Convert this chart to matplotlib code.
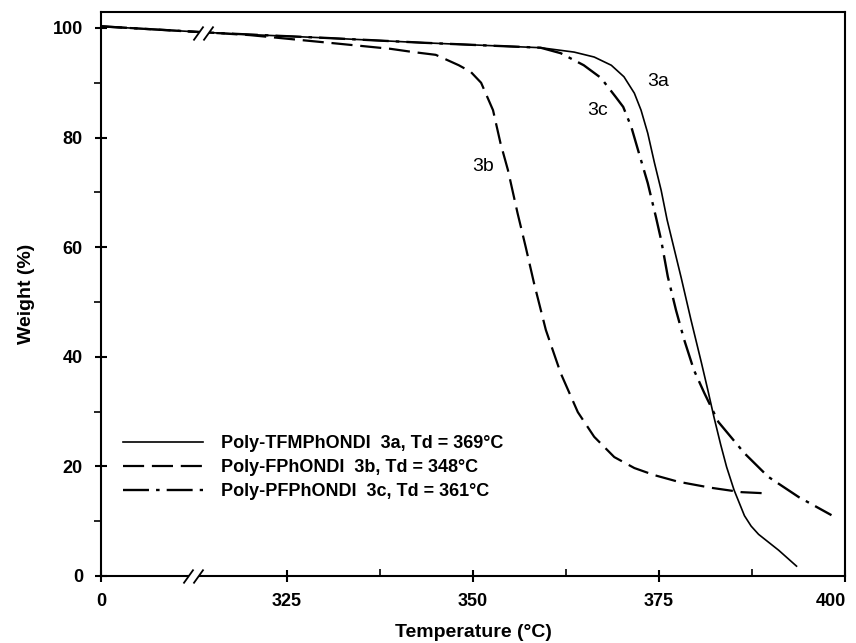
"""TGA curves of the three poly-ONDI samples, with a broken temperature axis."""

import matplotlib

matplotlib.use("Agg")
import matplotlib.pyplot as plt
from matplotlib.path import Path
from matplotlib.ticker import FixedLocator
from matplotlib.transforms import ScaledTranslation

# values (temperature in C, weight in %)
t_3a = [300, 314, 320, 330, 343.4, 352, 359.1, 363.6, 366.3, 368.6, 370.3,
        371.7, 372.6, 373.5, 374.4, 375.3, 376.1, 378.0, 379.3, 380.7,
        381.6, 382.4, 383.3, 384.1, 385.1, 386.5, 387.4, 388.4, 391.1, 393.5]
w_3a = [100.3, 99.2, 98.8, 98.2, 97.3, 96.8, 96.4, 95.6, 94.7, 93.2, 91.1,
        88.1, 85.0, 80.8, 75.4, 70.4, 65.0, 54.4, 46.8, 39.0,
        33.8, 29.0, 24.0, 19.9, 15.7, 11.0, 9.1, 7.6, 4.7, 1.8]

t_3b = [300, 314, 320, 329.9, 338.9, 342.0, 345.0, 348.1, 349.7, 351.1, 352.7,
        353.7, 354.7, 356.0, 357.1, 358.2, 359.8, 361.8, 364.1, 366.3, 369.0,
        371.7, 374.4, 377.6, 382.0, 386.1, 389.2]
w_3b = [100.3, 99.2, 98.7, 97.4, 96.2, 95.6, 95.1, 93.2, 92.0, 90.0, 85.0,
        79.0, 74.1, 66.2, 60.0, 53.5, 44.9, 37.0, 29.9, 25.4, 21.7,
        19.7, 18.4, 17.2, 16.1, 15.3, 15.1]

t_3c = [300, 314, 320, 330, 343.4, 352, 359.1, 361.8, 364.9, 367.2, 369.2,
        370.2, 371.3, 372.2, 373.5, 374.6, 375.3, 376.2, 377.3, 378.4, 379.7,
        381.1, 383.0, 386.5, 389.7, 393.8, 398.2]
w_3c = [100.3, 99.2, 98.8, 98.2, 97.3, 96.8, 96.4, 95.4, 93.2, 90.9, 87.4,
        85.6, 81.9, 77.7, 71.7, 65.5, 61.3, 54.6, 48.5, 43.1, 37.6,
        33.4, 28.1, 22.4, 18.1, 14.4, 11.1]

labels = [
    "Poly-TFMPhONDI  3a, Td = 369°C",
    "Poly-FPhONDI  3b, Td = 348°C",
    "Poly-PFPhONDI  3c, Td = 361°C",
]
curve_tags = ["3a", "3b", "3c"]
tag_pos = [(374.9, 90.3), (351.4, 74.8), (366.8, 85.0)]

x_ticks = [300, 325, 350, 375, 400]
x_ticklabels = ["0", "325", "350", "375", "400"]
x_minor = [337.5, 362.5, 387.5]
y_ticks = [0, 20, 40, 60, 80, 100]
y_minor = [10, 30, 50, 70, 90]

AXIS_BREAK_T = 312.3
CURVE_BREAK = (313.7, 99.1)

SANS = ["Liberation Sans", "DejaVu Sans"]
plt.rcParams["font.family"] = SANS

fig = plt.figure(figsize=(8.56, 6.43), dpi=100)
ax = fig.add_axes([0.118, 0.1042, 0.869, 0.877])

ax.plot(t_3a, w_3a, color="black", lw=1.2, label=labels[0])
ax.plot(t_3b, w_3b, color="black", lw=1.6, dashes=(9.5, 3.5), label=labels[1])
ax.plot(t_3c, w_3c, color="black", lw=1.7, dashes=(11, 3, 1.5, 3), label=labels[2])

for tag, (tx, ty) in zip(curve_tags, tag_pos):
    ax.text(tx, ty, tag, fontsize=14, ha="center", va="center")

ax.set_xlim(300, 400)
ax.set_ylim(0, 102.9)

ax.xaxis.set_major_locator(FixedLocator(x_ticks))
ax.set_xticklabels(x_ticklabels)
ax.xaxis.set_minor_locator(FixedLocator(x_minor))
ax.yaxis.set_major_locator(FixedLocator(y_ticks))
ax.yaxis.set_minor_locator(FixedLocator(y_minor))

ax.tick_params(which="major", direction="inout", length=8, width=1.5,
               labelsize=13)
ax.tick_params(axis="y", which="major", pad=9)
ax.tick_params(axis="x", which="major", pad=8)
ax.tick_params(axis="x", which="minor", direction="in", length=5, width=1.2)
ax.tick_params(axis="y", which="minor", direction="out", length=5, width=1.2)
for lab in ax.get_xticklabels() + ax.get_yticklabels():
    lab.set_fontweight("bold")
# the last x label sits a little to the left of its tick, as in the original
last = ax.get_xticklabels()[-1]
last.set_transform(last.get_transform()
                   + ScaledTranslation(-10 / 72, 0, fig.dpi_scale_trans))

for side in ("top", "right", "bottom", "left"):
    ax.spines[side].set_linewidth(1.5)

ax.set_xlabel("Temperature (°C)", fontsize=14, fontweight="bold", labelpad=10)
ax.set_ylabel("Weight (%)", fontsize=14, fontweight="bold", labelpad=13)

ax.legend(loc="upper left", bbox_to_anchor=(0.03, 0.25),
          frameon=False, borderpad=0, borderaxespad=0,
          handlelength=4.4, handletextpad=1.0, labelspacing=0.4,
          prop={"weight": "bold", "size": 13})

# "//" axis-break marks: white gap first, then the two slashes
slash = Path([(-10, -7), (0, 7), (0, -7), (10, 7)],
             [Path.MOVETO, Path.LINETO, Path.MOVETO, Path.LINETO])
gap = Path([(-10, -7), (0, -7), (10, 7), (0, 7), (-10, -7)],
           [Path.MOVETO, Path.LINETO, Path.LINETO, Path.LINETO, Path.CLOSEPOLY])
for bx, by in [(AXIS_BREAK_T, 0), CURVE_BREAK]:
    ax.plot([bx], [by], marker=gap, ms=14.4, mfc="white", mew=0,
            clip_on=False, zorder=5)
    ax.plot([bx], [by], marker=slash, ms=14.4, mfc="none", mec="black",
            mew=1.3, clip_on=False, zorder=6)

fig.savefig("out.png", dpi=100)
